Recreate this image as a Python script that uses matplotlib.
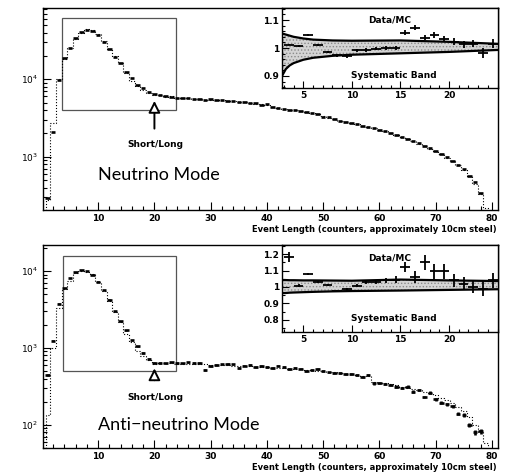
import numpy as np
import matplotlib
matplotlib.use("Agg")
import matplotlib.pyplot as plt
from matplotlib.ticker import MultipleLocator, FixedLocator, FormatStrFormatter, LogLocator, NullFormatter
from matplotlib.patches import Rectangle

plt.rcParams['font.family'] = ['DejaVu Sans']
plt.rcParams['mathtext.default'] = 'bf'
plt.rcParams['hatch.color'] = '#8a8a8a'
plt.rcParams['hatch.linewidth'] = 0.6

# ---- data ----
# neutrino mode, event length bins 1..78 (data) and 1..79 (MC)
nu_data = [290, 2100, 9800, 18700, 25600, 34500, 40500, 43400, 42000, 37300,
           30600, 24600, 19600, 16100, 12500, 10300, 8450, 7650, 6900, 6450,
           6260, 6050, 5900, 5800, 5720, 5650, 5580, 5520, 5460, 5500,
           5400, 5330, 5260, 5200, 5120, 5040, 4950, 4870, 4650, 4750,
           4330, 4250, 4150, 4060, 3970, 3870, 3760, 3650, 3530, 3300,
           3210, 3100, 2900, 2830, 2720, 2620, 2520, 2420, 2330, 2240,
           2130, 2030, 1920, 1810, 1700, 1600, 1480, 1380, 1280, 1180,
           1090, 980, 880, 780, 690, 560, 470, 340]
nu_mc = [280, 2750, 10000, 18500, 25300, 33000, 40000, 44000, 43200, 38400,
         31000, 24800, 19700, 16100, 11900, 9600, 8150, 7300, 6700, 6300,
         6180, 5960, 6000, 5720, 5700, 5640, 5580, 5510, 5450, 5420,
         5380, 5320, 5250, 5180, 5100, 5020, 4940, 4850, 4760, 4660,
         4340, 4240, 4140, 4050, 3960, 3860, 3750, 3640, 3520, 3320,
         3200, 3080, 2920, 2820, 2710, 2610, 2510, 2410, 2320, 2230,
         2120, 2020, 1910, 1800, 1690, 1580, 1470, 1370, 1270, 1170,
         1070, 970, 870, 770, 670, 560, 450, 330, 215]

# anti-neutrino mode
anu_data = [450, 1245, 3760, 6000, 8100, 9600, 10400, 9950, 9000, 7300,
            5700, 4250, 3000, 2230, 1700, 1260, 1050, 860, 720, 640,
            640, 630, 650, 640, 630, 650, 640, 640, 520, 580,
            600, 610, 620, 610, 545, 590, 600, 570, 580, 560,
            545, 590, 560, 530, 555, 540, 500, 520, 530, 500,
            480, 475, 470, 460, 455, 450, 420, 450, 345, 350,
            340, 330, 315, 300, 315, 270, 285, 230, 263, 215,
            195, 185, 175, 140, 135, 100, 80, 82]
anu_mc = [135, 1000, 3300, 5800, 7500, 9400, 10100, 9850, 9100, 7200,
          5500, 4100, 2900, 2150, 1520, 1190, 910, 780, 700, 625,
          630, 630, 630, 625, 625, 620, 620, 615, 610, 605,
          600, 598, 595, 590, 585, 580, 575, 570, 565, 560,
          555, 550, 545, 540, 535, 530, 522, 515, 508, 500,
          490, 482, 474, 465, 456, 447, 437, 426, 360, 350,
          345, 335, 325, 315, 305, 295, 285, 270, 260, 245,
          225, 210, 190, 170, 150, 125, 100, 80, 58]

# Data/MC ratio insets
ratio_x = [3.5, 4.5, 5.5, 6.5, 7.5, 8.5, 9.5, 10.5, 11.5, 12.5, 13.5,
           14.5, 15.5, 16.5, 17.5, 18.5, 19.5, 20.5, 21.5, 22.5, 23.5, 24.5]
nu_ratio = [1.012, 1.008, 1.047, 1.012, 0.985, 0.974, 0.970, 0.992, 0.993, 0.998, 1.000,
            0.999, 1.055, 1.072, 1.037, 1.047, 1.032, 1.022, 1.013, 1.016, 0.982, 1.015]
nu_ratio_err = [0.003, 0.003, 0.004, 0.004, 0.004, 0.005, 0.005, 0.005, 0.006, 0.006, 0.007,
                0.007, 0.008, 0.009, 0.010, 0.010, 0.011, 0.012, 0.013, 0.014, 0.018, 0.016]
anu_ratio = [1.184, 1.007, 1.08, 1.03, 1.011, 0.976, 0.986, 1.007, 1.03, 1.03, 1.04,
             1.045, 1.12, 1.06, 1.15, 1.095, 1.095, 1.04, 1.02, 1.00, 0.99, 1.04]
anu_ratio_err = [0.03, 0.01, 0.008, 0.008, 0.008, 0.008, 0.01, 0.01, 0.012, 0.012, 0.015,
                 0.02, 0.03, 0.035, 0.045, 0.045, 0.045, 0.04, 0.04, 0.04, 0.045, 0.045]

# systematic band edges
band_x = [2.8, 3.2, 3.6, 4, 5, 6, 8, 10, 15, 20, 25]
nu_band_hi = [1.052, 1.048, 1.044, 1.040, 1.034, 1.030, 1.027, 1.026, 1.027, 1.022, 1.015]
nu_band_lo = [0.900, 0.925, 0.938, 0.946, 0.958, 0.965, 0.972, 0.976, 0.981, 0.986, 0.993]
anu_band_hi = [1.042, 1.042, 1.041, 1.041, 1.040, 1.040, 1.039, 1.038, 1.045, 1.040, 1.036]
anu_band_lo = [0.962, 0.963, 0.965, 0.966, 0.968, 0.970, 0.973, 0.975, 0.978, 0.982, 0.986]

xlabel = "Event Length (counters, approximately 10cm steel)"

W, H = 505, 475
fig = plt.figure(figsize=(W / 100, H / 100), dpi=100)


def box(l, t, r, b):
    return [l / W, 1 - b / H, (r - l) / W, (b - t) / H]


def main_panel(ax, data, mc, ylim, rect, arrow, label, label_y, mode_y, errs):
    xd = np.arange(1, len(data) + 1)
    xm = np.arange(1, len(mc) + 1)
    ax.step(np.r_[0.5, xm, xm[-1] + 0.5], np.r_[ylim[0] * 0.5, mc, ylim[0] * 0.5],
            where='mid', color='k', ls=':', lw=0.8)
    yerr = np.sqrt(np.array(data, float)) * errs
    ax.errorbar(xd, data, xerr=0.4, yerr=yerr, fmt='none', ecolor='k',
                elinewidth=1.9, capsize=0)
    ax.set_yscale('log')
    ax.set_xlim(0.1, 81)
    ax.set_ylim(*ylim)
    ax.add_patch(Rectangle((rect[0], rect[1]), rect[2] - rect[0], rect[3] - rect[1],
                           fill=False, ec='#555555', lw=0.9))
    ax.annotate('', xy=(20, arrow[1]), xytext=(20, arrow[0]),
                arrowprops=dict(arrowstyle='-|>,head_width=0.35,head_length=0.7',
                                fc='white', ec='k', lw=1.4))
    ax.text(20.2, label_y, 'Short/Long', ha='center', va='center', fontsize=6.5,
            fontweight='bold')
    ax.text(9.9, mode_y, label, ha='left', va='center', fontsize=13,
            family=['Lato', 'DejaVu Sans'])
    ax.xaxis.set_major_locator(FixedLocator([10, 20, 30, 40, 50, 60, 70, 80]))
    ax.xaxis.set_minor_locator(MultipleLocator(2))
    ax.yaxis.set_major_locator(LogLocator(base=10))
    ax.yaxis.set_minor_locator(LogLocator(base=10, subs=np.arange(2, 10)))
    ax.yaxis.set_minor_formatter(NullFormatter())
    ax.tick_params(which='both', direction='in', top=False, right=False,
                   labelsize=6.5, width=0.8)
    ax.tick_params(which='major', length=6, pad=3)
    ax.tick_params(which='minor', length=3)
    for lab in ax.get_xticklabels():
        lab.set_fontweight('bold')
    for s in ax.spines.values():
        s.set_linewidth(1.0)


def inset(ax, ratio, err, hi, lo, ylim, yticks, minor):
    ax.fill_between(band_x, lo, hi, facecolor='#d4d4d4', hatch='.....', lw=0)
    ax.plot(band_x, hi, color='k', lw=1.6)
    ax.plot(band_x, lo, color='k', lw=1.6)
    ax.errorbar(ratio_x, ratio, xerr=0.5, yerr=err, fmt='none', ecolor='k',
                elinewidth=1.3, capsize=0)
    ax.set_xlim(2.8, 25)
    ax.set_ylim(*ylim)
    ax.xaxis.set_major_locator(FixedLocator([5, 10, 15, 20]))
    ax.xaxis.set_minor_locator(MultipleLocator(1))
    ax.yaxis.set_major_locator(FixedLocator(yticks))
    ax.yaxis.set_minor_locator(MultipleLocator(minor))
    ax.yaxis.set_major_formatter(FormatStrFormatter('%g'))
    ax.tick_params(which='both', direction='in', top=False, right=False,
                   labelsize=6.5, width=0.8, pad=2)
    ax.tick_params(which='major', length=5)
    ax.tick_params(which='minor', length=2.5)
    for lab in ax.get_xticklabels() + ax.get_yticklabels():
        lab.set_fontweight('bold')
    ax.text(0.5, 0.85, 'Data/MC', transform=ax.transAxes, ha='center', va='center',
            fontsize=6.5, fontweight='bold')
    ax.text(0.52, 0.15, 'Systematic Band', transform=ax.transAxes, ha='center',
            va='center', fontsize=6.5, fontweight='bold')
    for s in ax.spines.values():
        s.set_linewidth(1.0)


ax1 = fig.add_axes(box(42.5, 8, 497.5, 210))
main_panel(ax1, nu_data, nu_mc, (205, 83000), (3.6, 4020, 23.9, 61300),
           (2120, 5700), 'Neutrino Mode', 1445, 575, 0.0)
ax2 = fig.add_axes(box(42.5, 245, 497.5, 448))
main_panel(ax2, anu_data, anu_mc, (50, 21800), (3.7, 497, 23.9, 15800),
           (350, 590), 'Anti\u2212neutrino Mode', 224, 100, 0.6)

fig.text(497 / W, 1 - 230 / H, xlabel, ha='right', va='center', fontsize=6,
         fontweight='bold')
fig.text(497 / W, 1 - 467 / H, xlabel, ha='right', va='center', fontsize=6,
         fontweight='bold')

in1 = fig.add_axes(box(282, 8, 497.5, 88))
inset(in1, nu_ratio, nu_ratio_err, nu_band_hi, nu_band_lo, (0.857, 1.143),
      [0.9, 1.0, 1.1], 0.02)
in2 = fig.add_axes(box(282, 245, 497.5, 332))
inset(in2, anu_ratio, anu_ratio_err, anu_band_hi, anu_band_lo, (0.725, 1.256),
      [0.8, 0.9, 1.0, 1.1, 1.2], 0.05)

fig.savefig('out.png', dpi=100)
